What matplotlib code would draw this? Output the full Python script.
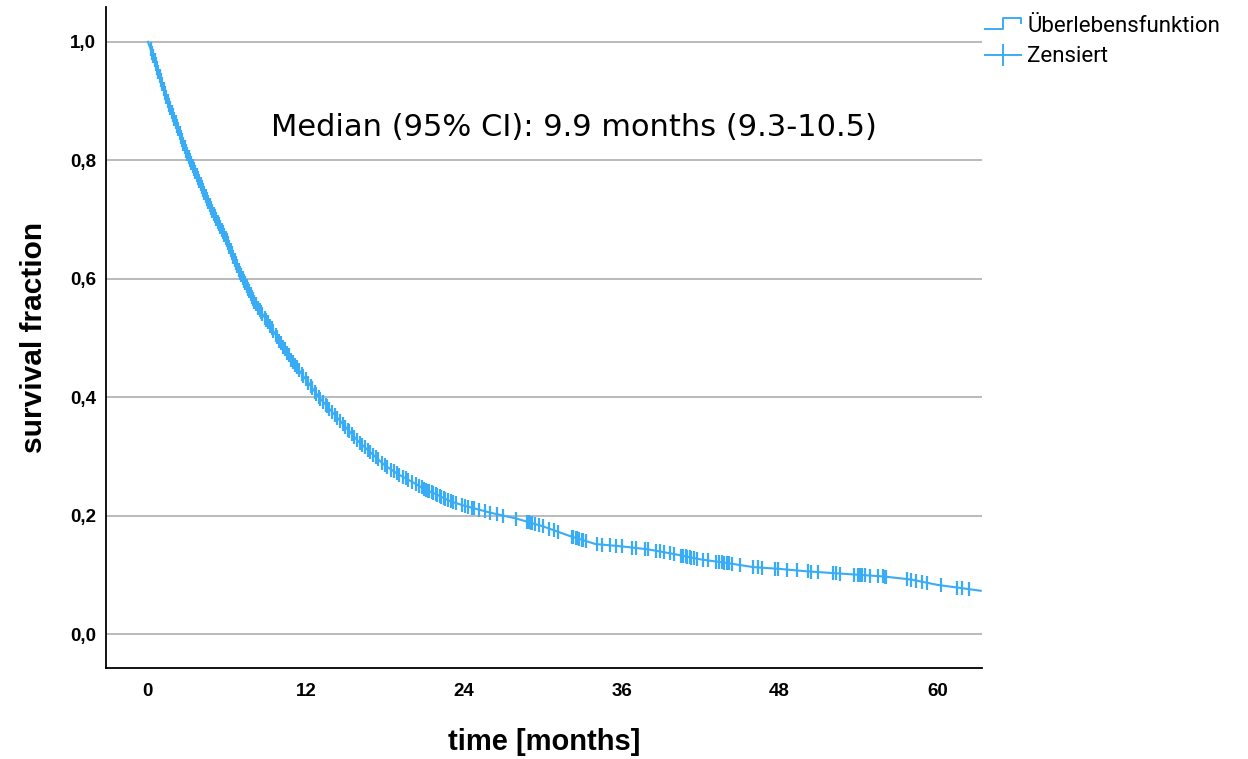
import matplotlib
matplotlib.use("Agg")
import matplotlib.pyplot as plt
import numpy as np
from matplotlib.lines import Line2D
from matplotlib.legend_handler import HandlerBase

# survival curve (months, survival fraction)
times = [0, 0.5, 1, 1.5, 2, 2.5, 3, 4, 5, 6, 7, 8, 9, 10, 11, 12, 13, 14, 15, 16,
         17, 18, 19, 20, 21, 22, 23, 24, 26, 28, 30, 32, 34, 36, 38, 40, 42, 44,
         46, 48, 50, 52, 54, 56, 58, 60, 62, 63.3]
surv = [1.0, 0.97, 0.935, 0.90, 0.87, 0.84, 0.81, 0.76, 0.71, 0.665, 0.61, 0.565,
        0.53, 0.495, 0.46, 0.43, 0.40, 0.375, 0.35, 0.325, 0.305, 0.285, 0.27,
        0.258, 0.245, 0.235, 0.224, 0.217, 0.205, 0.195, 0.182, 0.166, 0.152,
        0.148, 0.143, 0.135, 0.126, 0.120, 0.113, 0.110, 0.106, 0.103, 0.100,
        0.097, 0.092, 0.083, 0.077, 0.073]

# censored observations (months)
censored = [0.2, 0.3, 0.4, 0.5, 0.6, 0.7, 0.8, 0.9, 1.0, 1.1, 1.2, 1.3, 1.4, 1.5,
            1.6, 1.7, 1.8, 1.9, 2.0, 2.1, 2.2, 2.3, 2.4, 2.5, 2.6, 2.7, 2.8, 2.9,
            3.0, 3.1, 3.2, 3.3, 3.4, 3.5, 3.6, 3.7, 3.8, 3.9, 4.0, 4.1, 4.2, 4.3,
            4.4, 4.5, 4.6, 4.7, 4.8, 4.9, 5.0, 5.1, 5.2, 5.3, 5.4, 5.5, 5.6, 5.7,
            5.8, 5.9, 6.0, 6.1, 6.2, 6.3, 6.4, 6.5, 6.6, 6.7, 6.8, 6.9, 7.0, 7.1,
            7.2, 7.3, 7.4, 7.5, 7.6, 7.7, 7.8, 7.9, 8.0, 8.1, 8.2, 8.4, 8.5, 8.6,
            8.7, 8.9, 9.0, 9.1, 9.3, 9.4, 9.5, 9.7, 9.8, 10.0, 10.1, 10.3, 10.4,
            10.6, 10.7, 10.9, 11.0, 11.2, 11.3, 11.5, 11.7, 11.8, 12.0, 12.2,
            12.4, 12.5, 12.7, 12.8, 13.0, 13.1, 13.3, 13.5, 13.6, 13.8, 14.0,
            14.2, 14.4, 14.6, 14.8, 15.0, 15.2, 15.3, 15.5, 15.7, 15.9, 16.1,
            16.3, 16.5, 16.7, 16.9, 17.1, 17.3, 17.5, 17.8, 18.0, 18.2, 18.5,
            18.7, 18.9, 19.1, 19.4, 19.6, 19.8, 20.1, 20.4, 20.6, 20.8, 21.0,
            21.1, 21.3, 21.4, 21.6, 21.7, 21.9, 22.0, 22.2, 22.3, 22.5, 22.6,
            22.8, 23.0, 23.2, 23.4, 23.9, 24.1, 24.3, 24.6, 24.8, 25.2, 25.6,
            26.0, 26.5, 27.0, 28.0, 28.8, 29.0, 29.1, 29.2, 29.4, 29.7, 30.0,
            30.5, 30.9, 31.2, 32.2, 32.3, 32.5, 32.6, 32.8, 33.0, 33.1, 33.3,
            34.1, 34.5, 35.1, 35.6, 36.0, 36.8, 37.1, 37.8, 38.0, 38.65, 38.9,
            39.2, 39.7, 40.0, 40.55, 40.7, 40.9, 41.0, 41.2, 41.3, 41.5, 41.7,
            42.2, 42.6, 43.2, 43.4, 43.6, 43.8, 44.0, 44.2, 44.4, 45.0, 46.0,
            46.4, 46.7, 47.65, 47.9, 48.6, 49.3, 50.2, 50.4, 50.9, 52.1, 52.3,
            52.6, 53.7, 54.0, 54.1, 54.2, 54.3, 54.5, 54.9, 55.5, 55.9, 56.0,
            56.1, 57.7, 58.0, 58.4, 58.8, 59.2, 60.3, 61.5, 61.9, 62.4]

yticks = [0.0, 0.2, 0.4, 0.6, 0.8, 1.0]
ytick_labels = ["0,0", "0,2", "0,4", "0,6", "0,8", "1,0"]
xticks = [0, 12, 24, 36, 48, 60]

blue = "#3AACF5"


class StepHandler(HandlerBase):
    def create_artists(self, legend, orig_handle, xdescent, ydescent, width,
                       height, fontsize, trans):
        lo = -ydescent + height * 0.2
        hi = -ydescent + height * 0.95
        xs = [-xdescent, -xdescent + width * 0.5, -xdescent + width * 0.5,
              -xdescent + width, -xdescent + width]
        ys = [lo, lo, hi, hi, hi - height * 0.35]
        ln = Line2D(xs, ys, color=blue, lw=1.4, transform=trans)
        return [ln]


fig = plt.figure(figsize=(12.48, 7.59), dpi=100)
ax = fig.add_axes([0.0849, 0.1199, 0.702, 0.871])

ax.plot(times, surv, color=blue, lw=1.5, zorder=3)
cy = np.interp(censored, times, surv)
ax.plot(censored, cy, ls="none", marker="|", ms=10.5, mew=1.6, color=blue, zorder=3)

ax.set_xlim(-3.19, 63.4)
ax.set_ylim(-0.0574, 1.059)
ax.set_yticks(yticks)
ax.set_yticklabels(ytick_labels)
ax.set_xticks(xticks)
for lab in ax.get_xticklabels() + ax.get_yticklabels():
    lab.set_family("Liberation Sans")
    lab.set_fontweight("bold")
    lab.set_fontsize(13.5)
ax.tick_params(axis="both", length=0)
ax.tick_params(axis="x", pad=11)
ax.tick_params(axis="y", pad=7)

ax.grid(axis="y", color="#b4b4b4", lw=1.3)
ax.set_axisbelow(True)
ax.spines["top"].set_visible(False)
ax.spines["right"].set_visible(False)
ax.spines["left"].set_linewidth(1.3)
ax.spines["bottom"].set_linewidth(1.3)

ax.set_xlabel("time [months]", family="Liberation Sans", fontweight="bold",
              fontsize=21, labelpad=20)
ax.set_ylabel("survival fraction", family="Liberation Sans", fontweight="bold",
              fontsize=21.5, labelpad=16)

ax.text(32.4, 0.856, "Median (95% CI): 9.9 months (9.3-10.5)", family="DejaVu Sans",
        fontsize=22, ha="center", va="center", color="black")

h1 = Line2D([], [], color=blue)
h2 = Line2D([], [], color=blue, marker="|", ms=16, mew=1.4, lw=1.4)
fig.legend([h1, h2], ["Überlebensfunktion", "Zensiert"], loc="upper left",
           bbox_to_anchor=(0.782, 0.99), frameon=False, borderaxespad=0,
           handlelength=1.65, handletextpad=0.25, labelspacing=0.4,
           prop={"family": "Roboto", "size": 16},
           handler_map={h1: StepHandler()})

fig.savefig("out.png", dpi=100)
